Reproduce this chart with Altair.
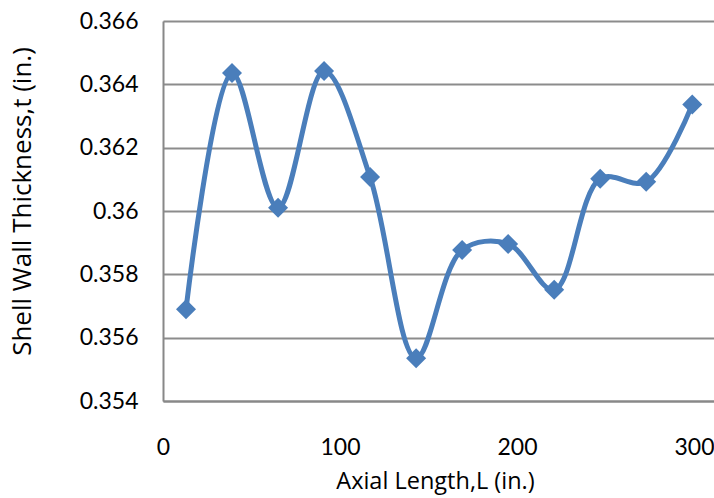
import altair as alt
import pandas as pd

axial_length = [13, 39, 65, 91, 117, 143, 169, 195, 221, 247, 273, 299]
thickness = [0.3569, 0.36436, 0.3601, 0.36442, 0.36107, 0.35535, 0.35877,
             0.35896, 0.35751, 0.36102, 0.36092, 0.36336]
x_ticks = [0, 100, 200, 300]
y_ticks = [0.354, 0.356, 0.358, 0.36, 0.362, 0.364, 0.366]

df = pd.DataFrame({"L": axial_length, "t": thickness})

FONT = "Lato"
TFONT = "Open Sans"
BLUE = "#4A7EBB"

x = alt.X("L:Q", scale=alt.Scale(domain=[0, 311.3], nice=False, zero=False),
          axis=alt.Axis(values=x_ticks, title="Axial Length,L (in.)", grid=False,
                        ticks=False, labelPadding=35, labelFontSize=23, labelFont=FONT,
                        labelColor="#000", titleFontSize=23.5, titleFont=TFONT,
                        titleFontWeight="normal", titleColor="#000",
                        titleBaseline="alphabetic", titleY=87, titleX=272,
                        domainColor="#888", domainWidth=2, labelFlush=False))
y = alt.Y("t:Q", scale=alt.Scale(domain=[0.354, 0.366], nice=False, zero=False),
          axis=alt.Axis(values=y_ticks, format="~g", title="Shell Wall Thickness,t (in.)",
                        ticks=False, labelPadding=25, labelFontSize=23, labelFont=FONT,
                        labelColor="#000", titleFontSize=26, titleFont=TFONT,
                        titleFontWeight="normal", titleColor="#000",
                        titleBaseline="middle", titleAlign="center", titleAngle=-90,
                        titleX=-141, titleY=180, gridColor="#8c8c8c", gridWidth=2,
                        domainColor="#888", domainWidth=2))

line = alt.Chart(df).mark_line(color=BLUE, strokeWidth=5, interpolate="catmull-rom").encode(x=x, y=y)
pts = alt.Chart(df).mark_point(shape="diamond", filled=True, size=400, color=BLUE, opacity=1).encode(x=x, y=y)

chart = (line + pts).properties(
    width=551, height=380,
    autosize=alt.AutoSizeParams(type="none"),
    padding={"left": 163, "top": 21, "right": 0, "bottom": 97},
).configure_view(stroke=None).configure(background="white")

chart.save("out.html", embed_options={"renderer": "svg", "actions": False})
